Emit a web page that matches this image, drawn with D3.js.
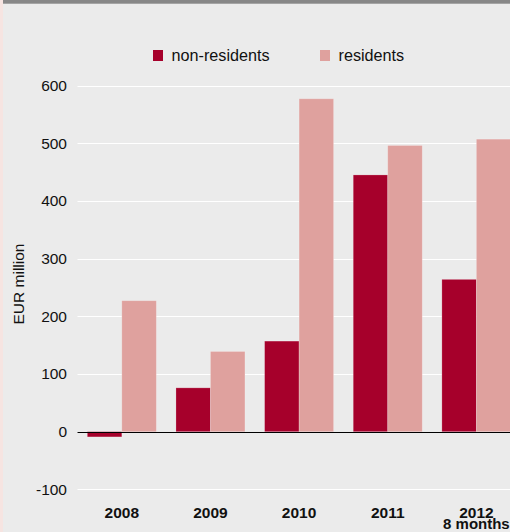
<!DOCTYPE html>
<html>
<head>
<meta charset="utf-8">
<script src="https://cdn.jsdelivr.net/npm/d3@7"></script>
<style>
html,body{margin:0;padding:0;background:#ebebeb;overflow:hidden;}
svg{display:block;font-family:"Liberation Sans",Arial,Helvetica,sans-serif;}
</style>
</head>
<body>
<script>
const categories = ["2008", "2009", "2010", "2011", "2012"];
const categorySubLabels = ["", "", "", "", "8 months"];
const seriesNames = ["non-residents", "residents"];
const nonResidents = [-9, 76, 157, 445, 264];
const residents = [227, 139, 577, 496, 507];
const yTicks = [-100, 0, 100, 200, 300, 400, 500, 600];
const colors = ["#a6002b", "#dfa19e"];

const W = 510, H = 532;
const svg = d3.select("body").append("svg").attr("width", W).attr("height", H);

svg.append("rect").attr("x", 0).attr("y", 0).attr("width", W).attr("height", H).attr("fill", "#ebebeb");
svg.append("rect").attr("x", 0).attr("y", 0).attr("width", 3).attr("height", H).attr("fill", "#f6e4e1");
svg.append("rect").attr("x", 3).attr("y", 0).attr("width", W - 3).attr("height", 3.7).attr("fill", "#878787");

const x0 = d3.scaleBand().domain(categories).range([77.5, 520.7]).paddingInner(0.2217).paddingOuter(0.1108);
const x1 = d3.scaleBand().domain(seriesNames).range([0, x0.bandwidth()]);
const y = d3.scaleLinear().domain([-100, 600]).range([489.4, 85.5]);

// grid
svg.append("g").selectAll("line").data(yTicks).join("line")
  .attr("x1", 77.5).attr("x2", W + 20)
  .attr("y1", d => Math.round(y(d)) + 0.5).attr("y2", d => Math.round(y(d)) + 0.5)
  .attr("stroke", "#ffffff").attr("stroke-width", 1);

// y axis labels
const yAxis = d3.axisLeft(y).tickValues(yTicks).tickSize(0).tickPadding(0).tickFormat(d => String(d));
const gy = svg.append("g").attr("transform", "translate(67,0)").call(yAxis);
gy.select(".domain").remove();
gy.selectAll("text").attr("font-size", "15.5px").attr("fill", "#111").attr("font-family", "Liberation Sans, Arial, sans-serif");

// bars
const data = categories.map((c, i) => ({cat: c, vals: [nonResidents[i], residents[i]]}));
const groups = svg.append("g").selectAll("g").data(data).join("g")
  .attr("transform", d => `translate(${x0(d.cat)},0)`);
groups.selectAll("rect").data(d => d.vals.map((v, j) => ({name: seriesNames[j], v, j}))).join("rect")
  .attr("x", d => x1(d.name))
  .attr("width", x1.bandwidth())
  .attr("y", d => y(Math.max(0, d.v)))
  .attr("height", d => Math.abs(y(d.v) - y(0)))
  .attr("fill", d => colors[d.j])
  .attr("stroke", "rgba(255,255,255,0.25)").attr("stroke-width", 0.8);

// zero line
svg.append("line").attr("x1", 77.5).attr("x2", W + 20)
  .attr("y1", Math.round(y(0)) + 0.5).attr("y2", Math.round(y(0)) + 0.5)
  .attr("stroke", "#000").attr("stroke-width", 1);

// x axis labels
const xAxis = d3.axisBottom(x0).tickSize(0).tickPadding(0);
const gx = svg.append("g").attr("transform", "translate(0,506.5)").call(xAxis);
gx.select(".domain").remove();
gx.selectAll("text").attr("font-size", "15.5px").attr("font-weight", "bold").attr("fill", "#111").attr("dy", "0.71em");
gx.selectAll(".tick text").each(function(d) {
  const sub = categorySubLabels[categories.indexOf(d)];
  if (sub) {
    const t = d3.select(this);
    t.text(null);
    t.append("tspan").attr("x", 0).text(d);
    t.append("tspan").attr("x", 0).attr("dy", "0.78em").attr("font-size", "15px").text(sub);
  }
});

// y title
svg.append("text").text("EUR million")
  .attr("transform", "translate(23.5,284) rotate(-90)")
  .attr("text-anchor", "middle").attr("font-size", "15.5px").attr("fill", "#111");

// legend
const legendX = [153, 320];
const leg = svg.append("g").selectAll("g").data(seriesNames).join("g")
  .attr("transform", (d, i) => `translate(${legendX[i]},50)`);
leg.append("rect").attr("width", 10).attr("height", 11).attr("fill", (d, i) => colors[i]);
leg.append("text").text(d => d).attr("x", 18.5).attr("y", 11)
  .attr("font-size", "16.2px").attr("fill", "#111");
</script>
</body>
</html>
